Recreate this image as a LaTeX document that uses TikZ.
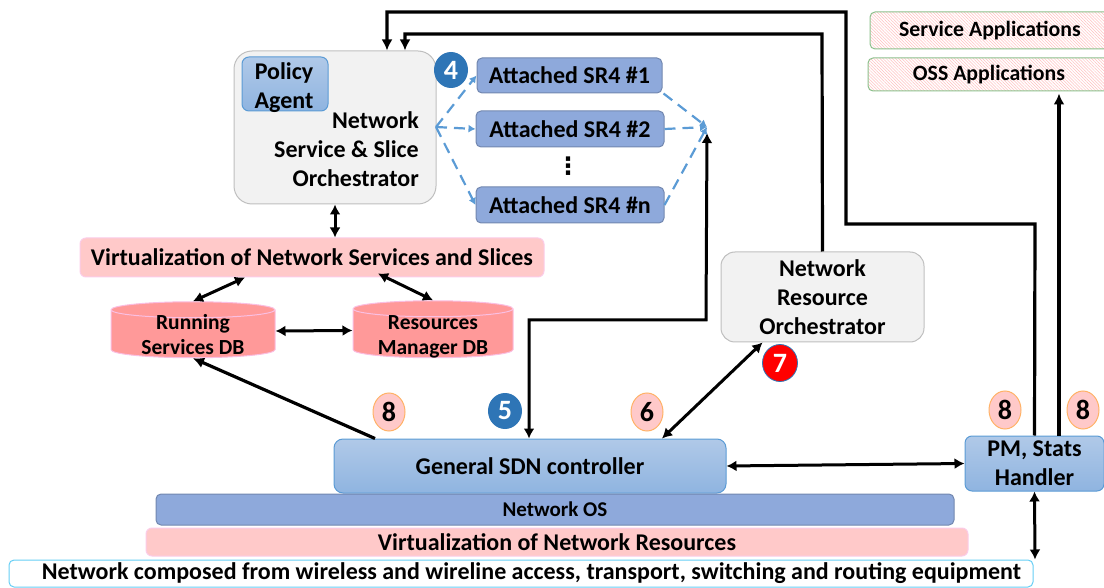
\documentclass[tikz,border=0pt]{standalone}
\usepackage{fontspec}
\setmainfont{Carlito}
\newfontfamily\dotsfont{DejaVu Sans}
\usetikzlibrary{arrows.meta,shapes.geometric,patterns.meta}
\definecolor{orchgray}{HTML}{F2F2F2}
\definecolor{srblue}{HTML}{8EA9DB}
\definecolor{sdntop}{HTML}{B0C9E8}
\definecolor{sdnbot}{HTML}{8FB4E0}
\definecolor{virtpink}{HTML}{FFC9C9}
\definecolor{dbpink}{HTML}{FF9999}
\definecolor{dashblue}{HTML}{5B9BD5}
\definecolor{stepblue}{HTML}{2E75B6}
\newcommand{\dbfiller}{\phantom{\rule{80pt}{30pt}}}
\tikzset{
    txt/.style={font=\fontsize{24}{29}\selectfont\bfseries,text=black,align=center,inner sep=0pt},
    orchbox/.style={draw=black!25,line width=1pt,fill=orchgray,rounded corners=18pt,inner sep=0pt},
    srbox/.style={txt,draw=srblue!80!black,line width=1pt,fill=srblue,rounded corners=5pt},
    sdnbox/.style={txt,draw=dashblue,line width=1pt,top color=sdntop,bottom color=sdnbot,rounded corners=9pt},
    virtbox/.style={txt,draw=magenta!20,line width=1pt,fill=virtpink,rounded corners=6pt},
    appbox/.style={txt,font=\fontsize{21.8}{26}\selectfont\bfseries,draw=green!45!black!45,line width=1pt,rounded corners=5pt,
        preaction={fill=white},pattern={Lines[angle=-45,distance=2.2pt,line width=0.5pt]},pattern color=red!25},
    dbnode/.style={cylinder,shape border rotate=90,aspect=0.2,draw=magenta!25,line width=1pt,fill=dbpink,inner sep=0pt},
    dbtext/.style={txt,font=\fontsize{21.5}{25}\selectfont\bfseries},
    stepnum/.style={ellipse,font=\fontsize{28}{28}\selectfont\bfseries,inner sep=0pt},
    stepwhite/.style={stepnum,fill=virtpink,draw=orange!60,line width=1pt,minimum width=32pt,minimum height=38pt,text=black},
    stepdark/.style={stepnum,fill=stepblue,minimum width=34pt,minimum height=36pt,text=white},
    flow/.style={line width=3.2pt,-{Latex[length=11pt,width=11pt]}},
    both/.style={line width=3pt,{Latex[length=10pt,width=11pt]}-{Latex[length=10pt,width=11pt]}},
    dashflow/.style={dash pattern=on 11pt off 7pt,draw=dashblue,line width=2.2pt,-{Latex[length=7pt,width=8pt]}},
}
\begin{document}
\begin{tikzpicture}[x=1pt,y=-1pt]
    \useasboundingbox (0,0) rectangle (1104,588);
    \node[orchbox,minimum width=202pt,minimum height=153pt] (orch) at (335,127.5) {};
    \node[sdnbox,rounded corners=7pt,minimum width=86pt,minimum height=54pt] (policy) at (285,84) {};
    \node[txt] (policytext) at (284,87.5) {Policy\\Agent};
    \node[txt,align=right,anchor=east] (orchtext) at (419,149) {Network\\Service \& Slice\\Orchestrator};
    \node[srbox,minimum width=185pt,minimum height=35pt] (sr1) at (569.5,75.5) {Attached SR4 \#1};
    \node[srbox,minimum width=188pt,minimum height=36pt] (sr2) at (570,129) {Attached SR4 \#2};
    \node[txt,font=\dotsfont\fontsize{24}{24}\selectfont\bfseries] (srdots) at (568,166) {⋮};
    \node[srbox,minimum width=188pt,minimum height=36pt] (srn) at (570,205) {Attached SR4 \#n};
    \coordinate (fanout) at (436,127);
    \coordinate (fanin) at (707,127);
    \node[stepdark] (stepfour) at (451,70) {4};
    \node[appbox,minimum width=240pt,minimum height=37pt] (service) at (990,30.5) {Service Applications};
    \node[appbox,minimum width=242pt,minimum height=33pt] (oss) at (989,74.5) {OSS Applications};
    \node[virtbox,minimum width=464pt,minimum height=39pt] (virtslices) at (312,257.5) {Virtualization of Network Services and Slices};
    \node[dbnode,minimum width=164pt,minimum height=56pt] (running) at (193,334) {\dbfiller};
    \node[dbtext] (runningtext) at (193,335) {Running\\Services DB};
    \node[dbnode,minimum width=160pt,minimum height=57pt] (resources) at (433,333.5) {\dbfiller};
    \node[dbtext] (resourcestext) at (433,336.5) {Resources\\Manager DB};
    \node[orchbox,rounded corners=14pt,minimum width=203pt,minimum height=90pt,txt,fill=orchgray,draw=black!25,line width=1pt] (nro) at (822.5,297) {Network\\Resource\\Orchestrator};
    \node[stepwhite] (stepeighta) at (389,412) {8};
    \node[stepdark] (stepfive) at (505,411) {5};
    \node[stepwhite] (stepsix) at (647,412) {6};
    \node[stepnum,fill=red,draw=stepblue,line width=0.8pt,minimum width=35pt,minimum height=37pt,text=white] (stepseven) at (780,363) {7};
    \node[stepwhite] (stepeightb) at (1005,410) {8};
    \node[stepwhite] (stepeightc) at (1083,410) {8};
    \node[sdnbox,minimum width=392pt,minimum height=54pt] (sdn) at (530,466) {General SDN controller};
    \node[sdnbox,rounded corners=7pt,minimum width=139pt,minimum height=55pt] (pm) at (1034.5,463.5) {PM, Stats\\Handler};
    \node[srbox,font=\fontsize{21}{22}\selectfont\bfseries,minimum width=798pt,minimum height=31pt] (netos) at (555,509.5) {Network OS};
    \node[virtbox,minimum width=822pt,minimum height=28pt] (virtres) at (557,542) {Virtualization of Network Resources};
    \node[txt,draw=cyan!60,line width=1pt,fill=white,rounded corners=5pt,minimum width=1024pt,minimum height=27pt] (network) at (521,573.5) {\hspace*{21pt}Network composed from wireless and wireline access, transport, switching and routing equipment};

    \draw[flow] (pm.north) -- (1035,224) -- (846,224) -- (846,12) -- (387,12) -- ([xshift=52pt]orch.north);
    \draw[flow] (nro.north) -- (822,34) -- (405,34) -- ([xshift=70pt]orch.north);
    \draw[flow] ([xshift=24.5pt]pm.north) -- ([xshift=70pt,yshift=-2pt]oss.south);
    \draw[both] ([yshift=-6pt]fanin) -- (706,320) -- (529,320) -- ([xshift=-1pt]sdn.north);
    \draw[both] ([xshift=132pt]sdn.north) -- ([xshift=-60pt]nro.south);
    \draw[both] (sdn.east) -- (pm.west);
    \draw[both] (pm.south) -- ([xshift=514pt]network.north);
    \draw[both] (orch.south) -- ([xshift=23pt]virtslices.north);
    \draw[both] ([xshift=-67pt]virtslices.south) -- (running.north);
    \draw[both] ([xshift=66pt,yshift=4pt]virtslices.south) -- (resources.north);
    \draw[both] ([yshift=3pt]running.east) -- ([yshift=3pt]resources.west);
    \draw[flow] ([xshift=-155pt]sdn.north) -- (running.south);
    \draw[dashflow] (fanout) -- (sr1.west);
    \draw[dashflow] (fanout) -- (sr2.west);
    \draw[dashflow] (fanout) -- (srn.west);
    \draw[dashflow] ([xshift=1pt,yshift=-18pt]sr1.east) -- (fanin);
    \draw[dashflow] (sr2.east) -- (fanin);
    \draw[dashflow] (srn.east) -- (fanin);
\end{tikzpicture}
\end{document}
